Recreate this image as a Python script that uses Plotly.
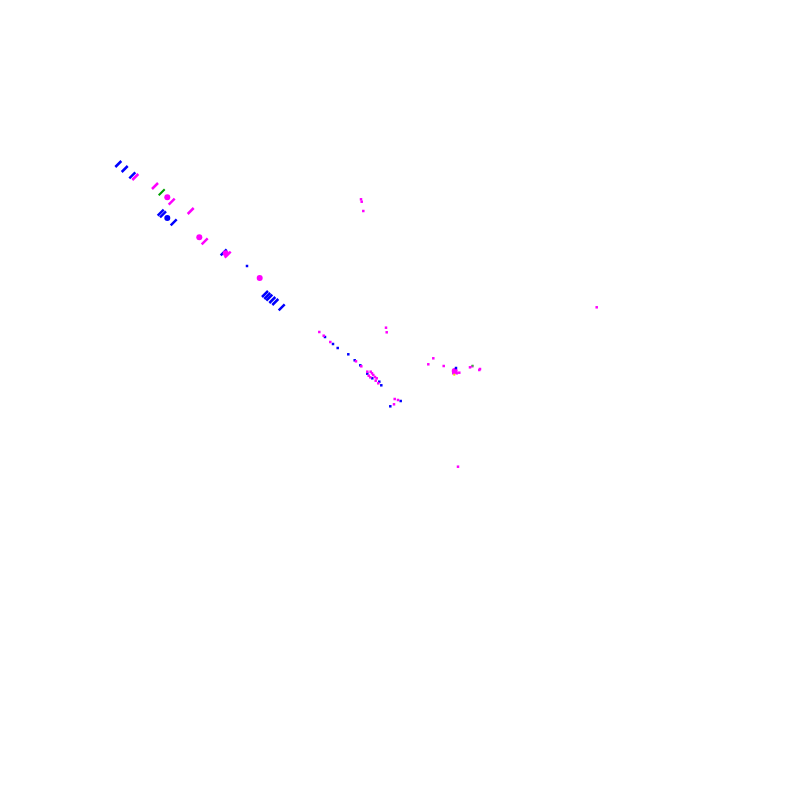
import plotly.graph_objects as go

# blue slanted strokes
blue_stroke_x = [118.3, 124.7, 132.3, 160.7, 163.0, 173.7, 223.7, 265.0, 267.3, 269.3, 272.3, 275.3, 281.7]
blue_stroke_y = [164.0, 169.0, 175.3, 212.7, 214.3, 222.3, 252.3, 294.0, 296.0, 297.7, 300.0, 302.0, 307.3]

# magenta slanted strokes
mag_stroke_x = [135.3, 155.0, 171.7, 190.7, 204.7, 227.7]
mag_stroke_y = [177.0, 186.0, 201.7, 211.0, 241.3, 254.7]

# green stroke
green_x = [161.7]
green_y = [192.3]

# larger blobs
blob_x = [167.3, 199.3, 225.7, 259.7, 454.7, 167.3]
blob_y = [197.3, 237.3, 253.3, 278.0, 371.0, 218.0]
blob_color = ["#ff00ff", "#ff00ff", "#ff00ff", "#ff00ff", "#ff00ff", "#0000ff"]

# small blue dots
blue_dot_x = [247.0, 325.0, 333.0, 337.7, 348.3, 354.7, 360.3, 367.3, 372.3, 379.3, 381.3, 400.7, 390.3, 456.0]
blue_dot_y = [266.0, 337.0, 344.0, 348.0, 354.3, 360.3, 365.3, 373.7, 378.3, 381.7, 385.3, 401.0, 406.3, 368.0]

# small magenta dots
mag_dot_x = [319.3, 323.7, 330.3, 386.0, 386.7, 356.0, 361.3, 367.3, 370.7, 372.0, 373.3, 375.0, 376.7,
             368.7, 370.3, 375.7, 378.3, 394.7, 398.0, 394.0, 433.3, 428.3, 443.7, 453.3, 456.7, 459.3,
             472.3, 470.0, 480.0, 479.3, 361.0, 361.7, 363.3, 596.7, 458.0]
mag_dot_y = [332.0, 335.7, 342.0, 327.7, 332.3, 361.3, 366.3, 371.7, 371.7, 373.3, 375.0, 377.0, 378.3,
             375.7, 377.3, 380.7, 383.3, 399.0, 400.0, 404.3, 358.3, 364.3, 366.0, 373.3, 373.3, 372.7,
             366.3, 367.3, 369.0, 370.0, 199.3, 201.7, 211.0, 307.3, 466.7]

# yellow / green specks
speck_x = [454.3, 472.6]
speck_y = [374.7, 365.7]
speck_color = ["#e6e600", "#33cc33"]

fig = go.Figure()

fig.add_trace(go.Scatter(
    x=blue_stroke_x, y=blue_stroke_y, mode='markers',
    marker=dict(symbol='line-ne', size=6, line=dict(color='#0000ff', width=2.5))
))
fig.add_trace(go.Scatter(
    x=mag_stroke_x, y=mag_stroke_y, mode='markers',
    marker=dict(symbol='line-ne', size=6, line=dict(color='#ff00ff', width=2.5))
))
fig.add_trace(go.Scatter(
    x=green_x, y=green_y, mode='markers',
    marker=dict(symbol='line-ne', size=6, line=dict(color='#00a000', width=2))
))
fig.add_trace(go.Scatter(
    x=blob_x, y=blob_y, mode='markers',
    marker=dict(symbol='circle', size=6, color=blob_color, line=dict(width=0))
))
fig.add_trace(go.Scatter(
    x=blue_dot_x, y=blue_dot_y, mode='markers',
    marker=dict(symbol='square', size=2.5, color='#0000ff', line=dict(width=0))
))
fig.add_trace(go.Scatter(
    x=mag_dot_x, y=mag_dot_y, mode='markers',
    marker=dict(symbol='square', size=2.5, color='#ff00ff', line=dict(width=0))
))
fig.add_trace(go.Scatter(
    x=speck_x, y=speck_y, mode='markers',
    marker=dict(symbol='square', size=2, color=speck_color, line=dict(width=0))
))

# page body adds an 8px offset, so the axis window is shifted to compensate
fig.update_layout(
    width=800, height=800,
    margin=dict(l=0, r=0, t=0, b=0),
    paper_bgcolor='white', plot_bgcolor='white',
    showlegend=False,
    xaxis=dict(range=[8, 808], visible=False),
    yaxis=dict(range=[808, 8], visible=False),
)

fig.write_html("out.html")
